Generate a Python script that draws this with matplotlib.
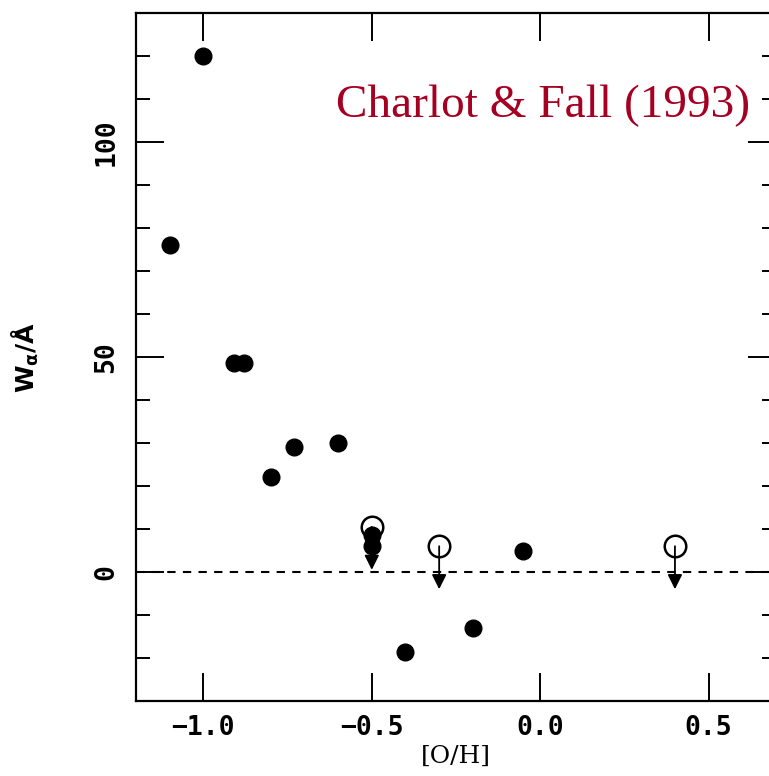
import numpy as np
import matplotlib
matplotlib.use('Agg')
import matplotlib.pyplot as plt
from matplotlib.ticker import MultipleLocator

# detections (filled circles)
oh_det = [-1.10, -1.00, -0.91, -0.88, -0.80, -0.73, -0.60, -0.50, -0.50, -0.40, -0.20, -0.05]
w_det = [76.0, 120.0, 48.5, 48.5, 22.0, 29.0, 30.0, 8.5, 6.0, -18.7, -13.0, 5.0]

# upper limits (open circles with arrows)
oh_lim = [-0.50, -0.30, 0.40]
w_lim = [10.5, 6.0, 6.0]
arrow_len = 10.0

xticks = [-1.0, -0.5, 0.0, 0.5]
xticklabels = ['\u22121.0', '\u22120.5', '0.0', '0.5']
yticks = [0, 50, 100]

fig = plt.figure(figsize=(7.69, 7.76), dpi=100)
ax = fig.add_axes([136 / 769, 75 / 776, 640 / 769, 688 / 776])

ax.axhline(0, color='black', lw=1.5, ls=(0, (4, 3.5)), zorder=1)

ax.plot(oh_det, w_det, 'o', color='black', ms=12, zorder=3)
ax.plot(oh_lim, w_lim, 'o', mfc='white', mec='black', mew=1.8, ms=15.5, zorder=2)
for x, y in zip(oh_lim, w_lim):
    ax.annotate('', xy=(x, y - arrow_len), xytext=(x, y),
                arrowprops=dict(arrowstyle='-|>', color='black', lw=1.3,
                                mutation_scale=22, shrinkA=0, shrinkB=0),
                zorder=4)

ax.set_xlim(-1.2, 0.7)
ax.set_ylim(-30, 130)
ax.set_xticks(xticks)
ax.set_xticklabels(xticklabels)
ax.set_yticks(yticks)
ax.yaxis.set_minor_locator(MultipleLocator(10))

for s in ax.spines.values():
    s.set_linewidth(1.6)
ax.tick_params(which='major', direction='in', length=20, width=1.4,
               top=True, right=True, pad=10)
ax.tick_params(which='minor', direction='in', length=10, width=1.4,
               left=True, right=True)
ax.tick_params(axis='y', which='major', pad=12)
for lab in ax.get_xticklabels() + ax.get_yticklabels():
    lab.set_fontfamily('DejaVu Sans Mono')
    lab.set_fontsize(19)
    lab.set_fontweight('semibold')
for lab in ax.get_yticklabels():
    lab.set_rotation(90)
    lab.set_va('center')

ax.set_xlabel('[O/H]', fontfamily='DejaVu Serif', fontsize=18, labelpad=3)
ax.set_ylabel(r'$\mathbf{W_\alpha/\AA}$', fontsize=18, labelpad=38)

ax.text(750 / 769, 1 - 117 / 776, 'Charlot & Fall (1993)', transform=fig.transFigure,
        ha='right', va='baseline', fontsize=34, color='#a50021',
        fontfamily='Liberation Serif')

fig.savefig('out.png', dpi=100)
